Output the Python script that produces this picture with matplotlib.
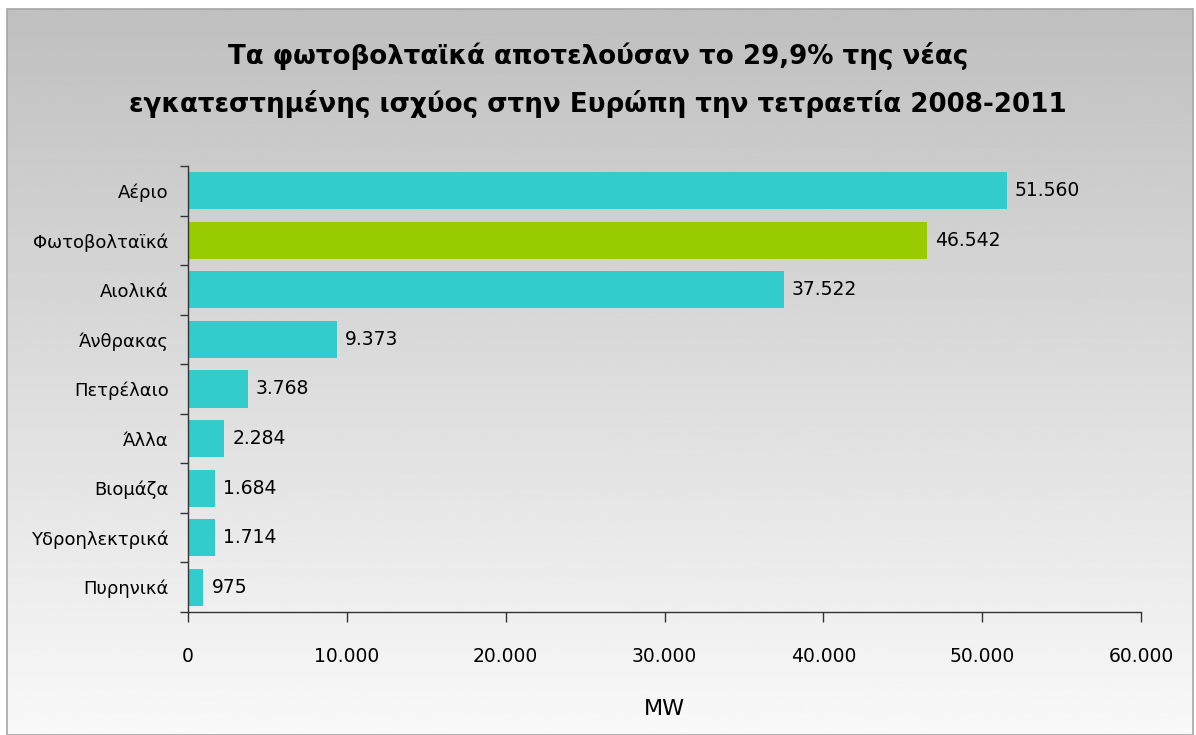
import numpy as np
import matplotlib.pyplot as plt
from matplotlib.patches import Rectangle

categories = ["Αέριο", "Φωτοβολταϊκά", "Αιολικά", "Άνθρακας", "Πετρέλαιο",
              "Άλλα", "Βιομάζα", "Υδροηλεκτρικά", "Πυρηνικά"]
values = [51560, 46542, 37522, 9373, 3768, 2284, 1684, 1714, 975]
colors = ["#33CCCC", "#99CC00", "#33CCCC", "#33CCCC", "#33CCCC",
          "#33CCCC", "#33CCCC", "#33CCCC", "#33CCCC"]
xticks = [0, 10000, 20000, 30000, 40000, 50000, 60000]

title = ("Τα φωτοβολταϊκά αποτελούσαν το 29,9% της νέας\n"
         "εγκατεστημένης ισχύος στην Ευρώπη την τετραετία 2008-2011")


def fmt(v):
    return f"{v:,}".replace(",", ".")


W, H = 1196, 735
fig = plt.figure(figsize=(W / 100, H / 100), dpi=100)
fig.patch.set_facecolor("white")

# gradient background panel with border
bg = fig.add_axes([7 / W, 0, (1193 - 7) / W, (H - 9) / H], zorder=0)
grad = np.linspace(0.75, 0.975, 256).reshape(-1, 1)
bg.imshow(grad, aspect="auto", cmap="gray", vmin=0, vmax=1,
          extent=[0, 1, 0, 1], origin="upper")
bg.set_xlim(0, 1)
bg.set_ylim(0, 1)
bg.axis("off")
bg.add_patch(Rectangle((0, 0), 1, 1, transform=bg.transAxes, fill=False,
                       edgecolor="#A6A6A6", lw=1.2, clip_on=False))

ax = fig.add_axes([188 / W, 1 - 612 / H, (1141 - 188) / W, (612 - 166) / H], zorder=1)
ax.patch.set_alpha(0)

y = np.arange(len(categories))
ax.barh(y, values, height=0.75, color=colors, zorder=2)
ax.set_ylim(len(categories) - 0.5, -0.5)
ax.set_xlim(0, 60000)

for yi, v in zip(y, values):
    ax.text(v + 500, yi, fmt(v), va="center", ha="left", fontsize=13.5, color="black")

ax.set_yticks(y)
ax.set_yticklabels(categories, fontsize=13)
ax.set_yticks(np.arange(-0.5, len(categories), 1), minor=True)
ax.tick_params(axis="y", which="major", length=0, pad=14)
ax.tick_params(axis="y", which="minor", length=6, width=1, direction="out", color="#333333")

ax.set_xticks(xticks)
ax.set_xticklabels([fmt(t) for t in xticks], fontsize=13.5)
ax.tick_params(axis="x", length=7, width=1, direction="out", pad=18, color="#333333")

for s in ["top", "right"]:
    ax.spines[s].set_visible(False)
for s in ["left", "bottom"]:
    ax.spines[s].set_color("#333333")
    ax.spines[s].set_linewidth(1)

ax.set_xlabel("MW", fontsize=16, labelpad=24)

fig.text(0.5, 1 - 80 / H, title, ha="center", va="center", fontsize=18.8,
         fontweight="bold", linespacing=1.95)

fig.savefig("out.png", dpi=100)
